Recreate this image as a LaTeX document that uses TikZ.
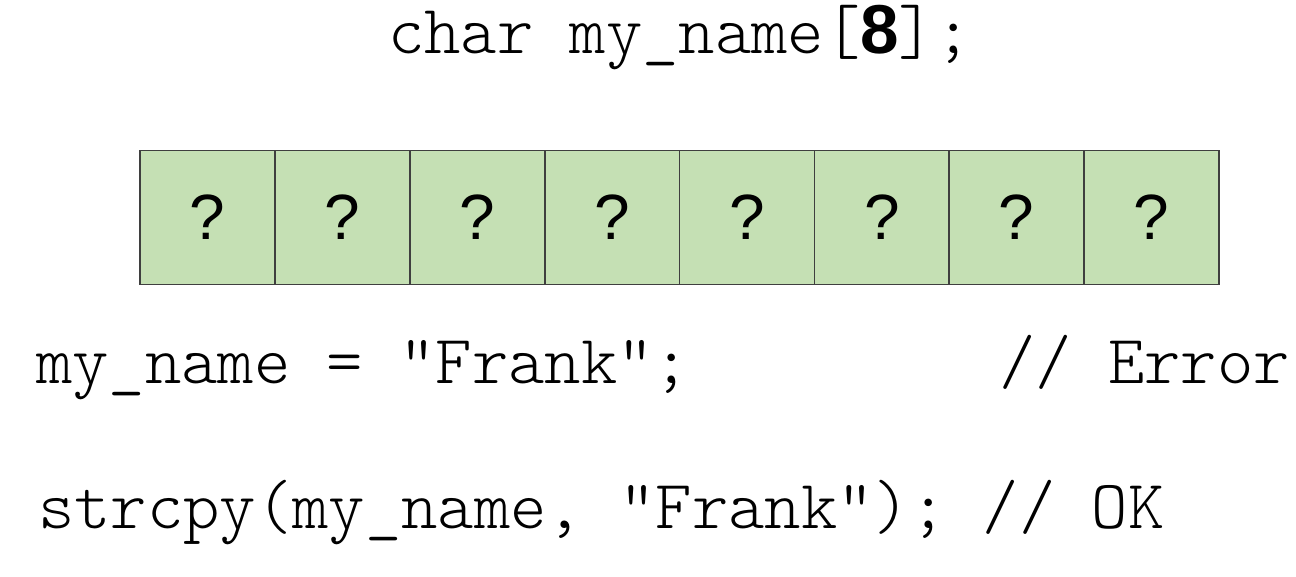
\documentclass[tikz,border=0pt]{standalone}
\usepackage{fontspec}
\setmainfont{Liberation Sans}
\newfontfamily\qfont{Liberation Sans}
\definecolor{cellgreen}{HTML}{C5E0B4}
\definecolor{cellline}{HTML}{3F3F3F}
\newcommand{\mycode}{\ttfamily\fontseries{l}\fontsize{69.2}{80}\selectfont}
\begin{document}
\begin{tikzpicture}[x=1pt,y=-1pt,
  cell/.style={draw=cellline,line width=1.8pt,fill=cellgreen,minimum width=134.9pt,minimum height=134pt,inner sep=0pt,anchor=north west,font=\qfont\fontsize{64}{64}\selectfont},
  code/.style={anchor=base west,inner sep=0pt,font=\mycode}]
\useasboundingbox (0,0) rectangle (1296,576);
\node[code] (decl) at (388,53) {char my\_name[{\rmfamily\fontseries{b}\selectfont 8}];};
\foreach \i in {0,...,7}{
  \node[cell] (c\i) at ({139+\i*134.9},149.5) {?};
}
\node[code] (assign) at (36,383) {my\_name = "Frank";};
\node[code] (err) at (999,383) {// Error};
\node[code] (copy) at (38,528) {strcpy(my\_name, "Frank"); // OK};
\end{tikzpicture}
\end{document}
